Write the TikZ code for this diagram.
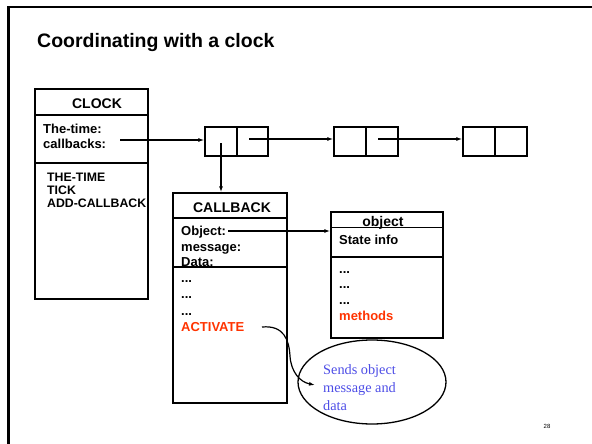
\documentclass[tikz,border=0pt]{standalone}
\usepackage{fontspec}
\setmainfont{Liberation Sans}
\newfontfamily\notefont{Liberation Serif}
\usetikzlibrary{arrows.meta,shapes.geometric}
\definecolor{actred}{RGB}{255,51,0}
\definecolor{noteblue}{RGB}{77,77,230}
\begin{document}
\begin{tikzpicture}[x=1pt,y=-1pt,
  box/.style={draw, line width=1.4pt, inner sep=0pt},
  sep/.style={line width=1.4pt},
  cell/.style={draw, line width=1.3pt, inner sep=0pt, minimum height=29pt},
  hdr/.style={anchor=base, inner sep=0pt, font=\bfseries\fontsize{14}{16}\selectfont},
  fld/.style={anchor=base west, inner sep=0pt, font=\bfseries\fontsize{13}{15}\selectfont},
  mth/.style={anchor=base west, inner sep=0pt, font=\bfseries\fontsize{12.3}{14}\selectfont},
  note/.style={anchor=base west, inner sep=0pt, text=noteblue, font=\notefont\fontsize{14.3}{17}\selectfont},
  conn/.style={line width=1.2pt, -{Latex[length=6pt,width=4pt]}}]
\useasboundingbox (0,0) rectangle (592,444);
% slide frame
\draw[line width=2.4pt] (8.5,444) -- (8.5,7) -- (592,7);
% title
\node[anchor=base west, inner sep=0pt, font=\bfseries\fontsize{19.5}{22}\selectfont] (title) at (37,48) {Coordinating with a clock};
% CLOCK box
\node[box, minimum width=113pt, minimum height=210pt] (clock) at (91.5,194) {};
\draw[sep] (35,115) -- (148,115);
\draw[sep] (35,163) -- (148,163);
\node[hdr] (clockhdr) at (97,108) {CLOCK};
\node[fld] (thetime) at (43,133) {The-time:};
\node[fld] (callbacks) at (43,148) {callbacks:};
\node[mth] (m1) at (47,181) {THE-TIME};
\node[mth] (m2) at (47,194) {TICK};
\node[mth] (m3) at (47,207) {ADD-CALLBACK};
% list cells
\node[cell, minimum width=32pt] (c1a) at (221,141.5) {};
\node[cell, minimum width=31pt] (c1b) at (252.5,141.5) {};
\node[cell, minimum width=32pt] (c2a) at (350,141.5) {};
\node[cell, minimum width=32pt] (c2b) at (382,141.5) {};
\node[cell, minimum width=32pt] (c3a) at (479,141.5) {};
\node[cell, minimum width=32pt] (c3b) at (511,141.5) {};
% CALLBACK box
\node[box, minimum width=114pt, minimum height=210pt] (callback) at (230,298) {};
\draw[sep] (173,218) -- (287,218);
\draw[sep] (173,267) -- (287,267);
\node[hdr] (cbhdr) at (232,212) {CALLBACK};
\node[fld] (fobj) at (181,235) {Object:};
\node[fld] (fmsg) at (181,251.5) {message:};
\node[fld] (fdata) at (181,266.5) {Data:};
\node[fld] (d1) at (181,282) {...};
\node[fld] (d2) at (181,298) {...};
\node[fld] (d3) at (181,315) {...};
\node[fld, text=actred] (activate) at (181,331) {ACTIVATE};
% object box
\node[box, minimum width=112pt, minimum height=126pt] (obj) at (387,275) {};
\draw[sep] (331,227.5) -- (443,227.5);
\draw[sep] (331,257) -- (443,257);
\node[hdr] (objhdr) at (383,226.5) {object};
\node[fld] (state) at (339,244) {State info};
\node[fld] (o1) at (339,273) {...};
\node[fld] (o2) at (339,288.5) {...};
\node[fld] (o3) at (339,304.5) {...};
\node[fld, text=actred] (methods) at (339,320) {methods};
% ellipse note
\node[draw, ellipse, line width=1.3pt, minimum width=148pt, minimum height=84pt, inner sep=0pt] (ell) at (372,382) {};
\node[note] (n1) at (323,374) {Sends object};
\node[note] (n2) at (323,392) {message and};
\node[note] (n3) at (323,410) {data};
% page number
\node[inner sep=0pt, font=\fontsize{6}{7}\selectfont] (pg) at (547,426) {28};
% connectors
\coordinate (cbstart) at (120,140);
\draw[conn] (cbstart) -- (cbstart -| c1a.west);
\coordinate (p1) at (249,139);
\draw[conn] (p1) -- (p1 -| c2a.west);
\coordinate (p2) at (378,139);
\draw[conn] (p2) -- (p2 -| c3a.west);
\coordinate (c1ptr) at (221,143);
\draw[conn] (c1ptr) -- (c1ptr |- callback.north);
\coordinate (objptr) at (228,231);
\draw[conn] (objptr) -- (objptr -| obj.west);
\coordinate (actstart) at (262,327);
\coordinate (actend) at (315,385);
\draw[conn] (actstart) .. controls (284,325) and (289,340) .. (290,356) .. controls (291,372) and (300,382) .. (actend);
\end{tikzpicture}
\end{document}
